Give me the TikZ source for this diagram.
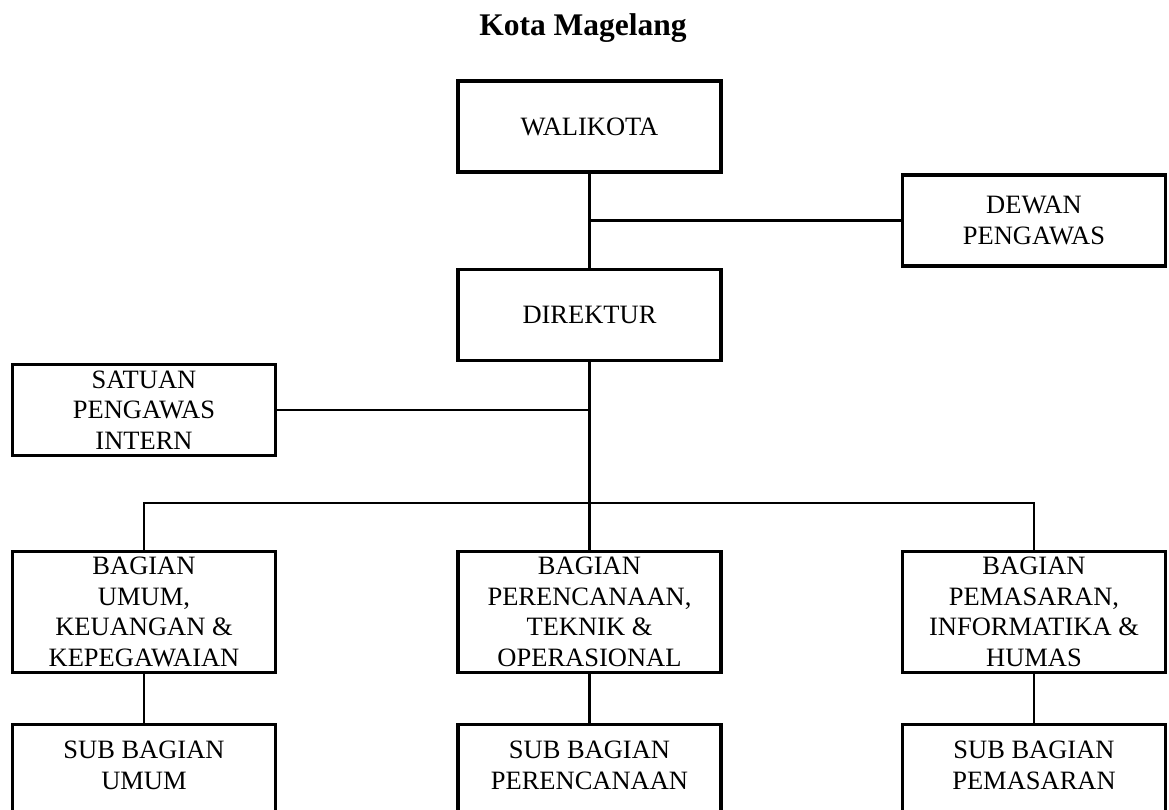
\documentclass[tikz,border=0pt]{standalone}
\usepackage{fontspec}
\setmainfont{Liberation Serif}
\tikzset{box/.style={draw, line width=3.2pt, inner sep=0pt, minimum width=263pt, minimum height=91pt, align=center, font=\fontsize{26.5}{30.5}\selectfont}}
\tikzset{openbox/.style={box, draw=none, outer sep=0pt, minimum height=82pt}}
\tikzset{link/.style={line width=2.2pt}}

\begin{document}
\begin{tikzpicture}[x=1pt, y=-1pt]
      \useasboundingbox (0,0) rectangle (1169,809);
      \node[font=\bfseries\fontsize{31.5}{36}\selectfont, anchor=base] (title) at (583,35) {Kota Magelang};
      \node[box] (walikota) at (589.5,126.5) {WALIKOTA};
      \node[box] (dewan) at (1034,220.5) {DEWAN\\PENGAWAS};
      \node[box] (direktur) at (589.5,315) {DIREKTUR};
      \node[box] (spi) at (144,410) {SATUAN\\PENGAWAS\\INTERN};
      \node[box, minimum height=121pt] (umum) at (144,612) {BAGIAN\\UMUM,\\KEUANGAN \&\\KEPEGAWAIAN};
      \node[box, minimum height=121pt] (perencanaan) at (589.5,612) {BAGIAN\\PERENCANAAN,\\TEKNIK \&\\OPERASIONAL};
      \node[box, minimum height=121pt] (pemasaran) at (1034,612) {BAGIAN\\PEMASARAN,\\INFORMATIKA \&\\HUMAS};
      \node[openbox] (subumum) at (144,765.5) {SUB BAGIAN\\UMUM};
      \node[openbox] (subperencanaan) at (589.5,765.5) {SUB BAGIAN\\PERENCANAAN};
      \node[openbox] (subpemasaran) at (1034,765.5) {SUB BAGIAN\\PEMASARAN};
      % sub boxes run off the bottom of the page
      \foreach \n in {subumum,subperencanaan,subpemasaran}
        \draw[line width=3.2pt] ([yshift=-8pt]\n.south west) -- (\n.north west) -- (\n.north east) -- ([yshift=-8pt]\n.south east);
      \draw[link] (walikota) -- (direktur);
      \draw[link] (dewan.west) -- (dewan.west -| walikota.south);
      \draw[link] (direktur) -- (perencanaan);
      \draw[link] (spi.east) -- (spi.east -| direktur.south);
      \coordinate (branch) at (589.5,503);
      \draw[link] (umum.north) |- (branch) -| (pemasaran.north);
      \draw[link] (umum) -- (subumum);
      \draw[link] (perencanaan) -- (subperencanaan);
      \draw[link] (pemasaran) -- (subpemasaran);
    \end{tikzpicture}
\end{document}
